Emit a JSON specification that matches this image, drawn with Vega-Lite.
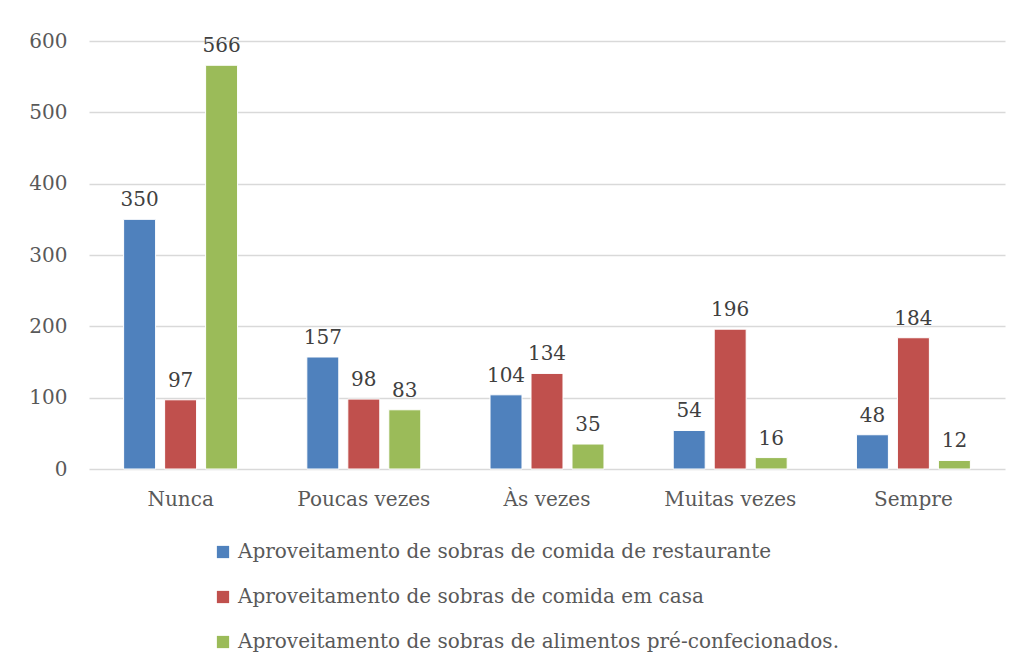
{
  "$schema": "https://vega.github.io/schema/vega-lite/v6.json",
  "width": 916,
  "height": 428,
  "autosize": {"type": "none"},
  "padding": {"left": 89, "top": 41, "right": 16, "bottom": 197},
  "background": "white",
  "config": {
    "font": "DejaVu Serif",
    "view": {"stroke": null},
    "axis": {"labelFont": "DejaVu Serif", "labelColor": "#595959", "labelFontSize": 20}
  },
  "data": {
    "values": [
      {"cat": "Nunca", "serie": "Aproveitamento de sobras de comida de restaurante", "v": 350},
      {"cat": "Nunca", "serie": "Aproveitamento de sobras de comida em casa", "v": 97},
      {"cat": "Nunca", "serie": "Aproveitamento de sobras de alimentos pré-confecionados.", "v": 566},
      {"cat": "Poucas vezes", "serie": "Aproveitamento de sobras de comida de restaurante", "v": 157},
      {"cat": "Poucas vezes", "serie": "Aproveitamento de sobras de comida em casa", "v": 98},
      {"cat": "Poucas vezes", "serie": "Aproveitamento de sobras de alimentos pré-confecionados.", "v": 83},
      {"cat": "Às vezes", "serie": "Aproveitamento de sobras de comida de restaurante", "v": 104},
      {"cat": "Às vezes", "serie": "Aproveitamento de sobras de comida em casa", "v": 134},
      {"cat": "Às vezes", "serie": "Aproveitamento de sobras de alimentos pré-confecionados.", "v": 35},
      {"cat": "Muitas vezes", "serie": "Aproveitamento de sobras de comida de restaurante", "v": 54},
      {"cat": "Muitas vezes", "serie": "Aproveitamento de sobras de comida em casa", "v": 196},
      {"cat": "Muitas vezes", "serie": "Aproveitamento de sobras de alimentos pré-confecionados.", "v": 16},
      {"cat": "Sempre", "serie": "Aproveitamento de sobras de comida de restaurante", "v": 48},
      {"cat": "Sempre", "serie": "Aproveitamento de sobras de comida em casa", "v": 184},
      {"cat": "Sempre", "serie": "Aproveitamento de sobras de alimentos pré-confecionados.", "v": 12}
    ]
  },
  "encoding": {
    "x": {
      "field": "cat", "type": "nominal", "sort": null,
      "scale": {"paddingInner": 0.378, "paddingOuter": 0.189},
      "axis": {"title": null, "labelAngle": 0, "domain": false, "ticks": false, "labelPadding": 20, "grid": false}
    },
    "xOffset": {
      "field": "serie", "type": "nominal", "sort": null,
      "scale": {"paddingInner": 0.22, "paddingOuter": 0}
    },
    "y": {
      "field": "v", "type": "quantitative",
      "scale": {"domain": [0, 600], "nice": false},
      "axis": {"title": null, "values": [0, 100, 200, 300, 400, 500, 600], "labelOverlap": false, "domain": false, "ticks": false, "labelPadding": 22, "gridColor": "#d9d9d9", "gridWidth": 1.5}
    }
  },
  "layer": [
    {
      "mark": {"type": "bar", "stroke": "white", "strokeWidth": 1},
      "encoding": {
        "color": {
          "field": "serie", "type": "nominal", "sort": null,
          "scale": {
            "domain": ["Aproveitamento de sobras de comida de restaurante", "Aproveitamento de sobras de comida em casa", "Aproveitamento de sobras de alimentos pré-confecionados."],
            "range": ["#4f81bd", "#c0504d", "#9bbb59"]
          },
          "legend": {
            "title": null, "orient": "none", "legendX": 124, "legendY": 501,
            "direction": "vertical", "symbolType": "square", "symbolSize": 150,
            "symbolStrokeWidth": 0, "labelFontSize": 20, "labelColor": "#595959",
            "labelFont": "DejaVu Serif", "rowPadding": 25, "labelOffset": 5, "labelLimit": 800
          }
        }
      }
    },
    {
      "mark": {"type": "text", "baseline": "bottom", "dy": -9, "fontSize": 20, "color": "#404040"},
      "encoding": {"text": {"field": "v", "type": "quantitative"}}
    }
  ]
}
